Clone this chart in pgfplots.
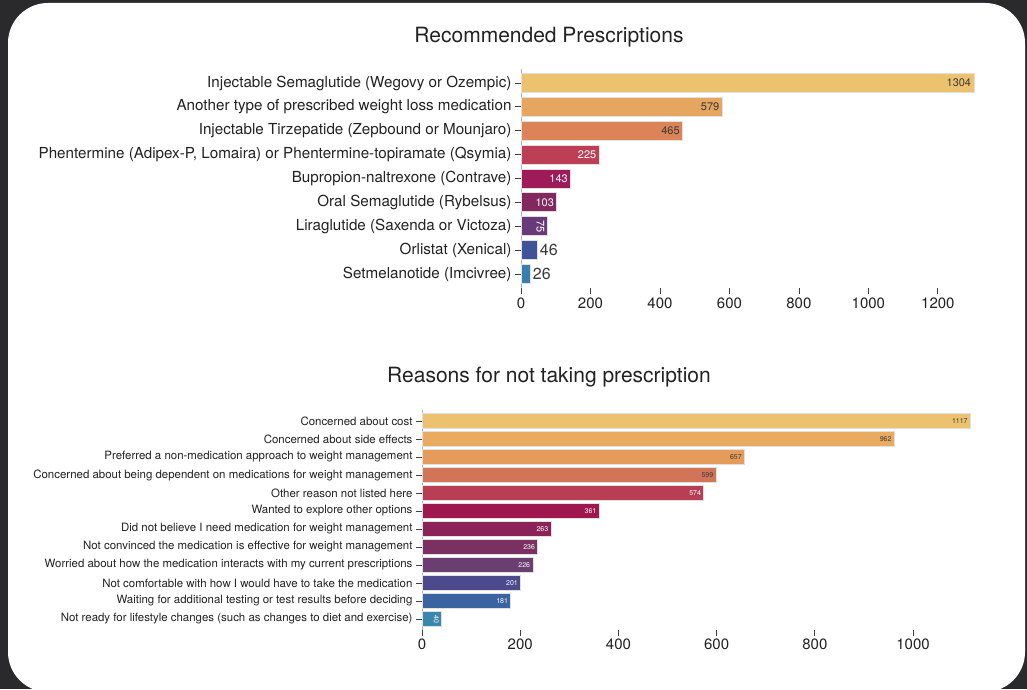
\documentclass[border=0pt]{standalone}
\usepackage{fontspec}
\setmainfont{TeX Gyre Heros}
\usepackage{pgfplots}
\pgfplotsset{compat=1.18}
\definecolor{bgdark}{HTML}{2A2A2C}
\definecolor{txt}{HTML}{222222}
\definecolor{lab}{HTML}{3A3A3A}
\definecolor{t1}{HTML}{EDC26F}
\definecolor{t2}{HTML}{E6A65F}
\definecolor{t3}{HTML}{DC8457}
\definecolor{t4}{HTML}{BD3F56}
\definecolor{t5}{HTML}{9F1A58}
\definecolor{t6}{HTML}{82285F}
\definecolor{t7}{HTML}{693A79}
\definecolor{t8}{HTML}{3F539B}
\definecolor{t9}{HTML}{3A7EB0}
\definecolor{b1}{HTML}{EDC26F}
\definecolor{b2}{HTML}{E8AB60}
\definecolor{b3}{HTML}{E59B5A}
\definecolor{b4}{HTML}{D27457}
\definecolor{b5}{HTML}{B83E55}
\definecolor{b6}{HTML}{A0174F}
\definecolor{b7}{HTML}{8B2358}
\definecolor{b8}{HTML}{7A3162}
\definecolor{b9}{HTML}{6A3E71}
\definecolor{b10}{HTML}{4C4A8C}
\definecolor{b11}{HTML}{3C63A1}
\definecolor{b12}{HTML}{3B86AE}
\pgfplotsset{
  hb/.style={scale only axis, clip=false, y dir=reverse,
    axis y line*=left, axis x line*=bottom,
    x axis line style={draw=none}, y axis line style={draw=black!30, line width=0.8pt},
    tick align=outside, major tick length=6pt,
    tick style={draw=black!75, line width=0.8pt},
    /pgf/number format/1000 sep={}, /pgf/number format/assume math mode=true,
    ticklabel style={text=txt},
  },
  mybar/.style={xbar, bar shift=0pt, draw=black!12, line width=0.8pt, point meta=x, nodes near coords},
  inlab/.style={every node near coord/.append style={anchor=east, text=#1, inner sep=2.5pt}},
  rotlab/.style={every node near coord/.append style={rotate=-90, anchor=north, text=#1, inner sep=2.5pt}},
  outlab/.style={every node near coord/.append style={anchor=west, text=lab, inner sep=2.5pt, font=\fontsize{16}{18}\selectfont}},
}
\begin{document}
\begin{tikzpicture}[x=1pt,y=1pt]
\useasboundingbox (0,0) rectangle (1027,689);
\fill[bgdark] (0,0) rectangle (1027,689);
\fill[white, rounded corners=40pt] (8,-3) rectangle (1025,686);
\node[font=\fontsize{21}{25}\selectfont, text=txt] at (549,652) {Recommended Prescriptions};
\node[font=\fontsize{21}{25}\selectfont, text=txt] at (549,312) {Reasons for not taking prescription};

\begin{axis}[hb, at={(521pt,400.7pt)}, width=453pt, height=219.6pt,
  xmin=0, xmax=1304, ymin=-0.6, ymax=8.6,
  ytick={0,...,8}, xtick={0,200,...,1200},
  yticklabels={Injectable Semaglutide (Wegovy or Ozempic), Another type of prescribed weight loss medication, Injectable Tirzepatide (Zepbound or Mounjaro), {Phentermine (Adipex-P, Lomaira) or Phentermine-topiramate (Qsymia)}, Bupropion-naltrexone (Contrave), Oral Semaglutide (Rybelsus), Liraglutide (Saxenda or Victoza), Orlistat (Xenical), Setmelanotide (Imcivree)},
  yticklabel style={font=\fontsize{15.2}{17}\selectfont},
  xticklabel style={font=\fontsize{15}{17}\selectfont},
  every node near coord/.append style={font=\fontsize{11}{13}\selectfont},
  bar width=19pt]
\addplot[mybar, fill=t1, inlab=lab] coordinates {(1304,0)};
\addplot[mybar, fill=t2, inlab=lab] coordinates {(579,1)};
\addplot[mybar, fill=t3, inlab=lab] coordinates {(465,2)};
\addplot[mybar, fill=t4, inlab=white] coordinates {(225,3)};
\addplot[mybar, fill=t5, inlab=white] coordinates {(143,4)};
\addplot[mybar, fill=t6, inlab=white] coordinates {(103,5)};
\addplot[mybar, fill=t7, rotlab=white] coordinates {(75,6)};
\addplot[mybar, fill=t8, outlab] coordinates {(46,7)};
\addplot[mybar, fill=t9, outlab] coordinates {(26,8)};
\end{axis}

\begin{axis}[hb, at={(422pt,59.2pt)}, width=548.5pt, height=219.6pt,
  xmin=0, xmax=1117, ymin=-0.6, ymax=11.6,
  ytick={0,...,11}, xtick={0,200,...,1000},
  yticklabels={Concerned about cost, Concerned about side effects, Preferred a non-medication approach to weight management, Concerned about being dependent on medications for weight management, Other reason not listed here, Wanted to explore other options, Did not believe I need medication for weight management, Not convinced the medication is effective for weight management, Worried about how the medication interacts with my current prescriptions, Not comfortable with how I would have to take the medication, Waiting for additional testing or test results before deciding, Not ready for lifestyle changes (such as changes to diet and exercise)},
  yticklabel style={font=\fontsize{11.45}{13}\selectfont},
  xticklabel style={font=\fontsize{15}{17}\selectfont},
  every node near coord/.append style={font=\fontsize{7}{8}\selectfont},
  bar width=14.5pt]
\addplot[mybar, fill=b1, inlab=lab] coordinates {(1117,0)};
\addplot[mybar, fill=b2, inlab=lab] coordinates {(962,1)};
\addplot[mybar, fill=b3, inlab=lab] coordinates {(657,2)};
\addplot[mybar, fill=b4, inlab=lab] coordinates {(599,3)};
\addplot[mybar, fill=b5, inlab=white] coordinates {(574,4)};
\addplot[mybar, fill=b6, inlab=white] coordinates {(361,5)};
\addplot[mybar, fill=b7, inlab=white] coordinates {(263,6)};
\addplot[mybar, fill=b8, inlab=white] coordinates {(236,7)};
\addplot[mybar, fill=b9, inlab=white] coordinates {(226,8)};
\addplot[mybar, fill=b10, inlab=white] coordinates {(201,9)};
\addplot[mybar, fill=b11, inlab=white] coordinates {(181,10)};
\addplot[mybar, fill=b12, rotlab=white] coordinates {(40,11)};
\end{axis}
\end{tikzpicture}
\end{document}
